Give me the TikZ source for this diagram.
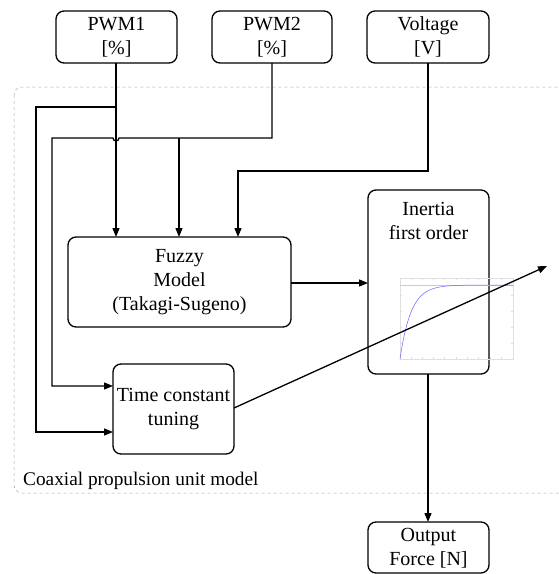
\documentclass[tikz,border=0pt]{standalone}
\usepackage{fontspec}
\setmainfont{Liberation Serif}
\usetikzlibrary{arrows.meta}
\begin{document}
\begin{tikzpicture}[x=1pt,y=-1pt,
  blk/.style={draw,line width=1.3pt,rounded corners=8pt,inner sep=0pt},
  lbl/.style={font=\fontsize{20}{24}\selectfont,align=center,inner sep=0pt},
  wire/.style={line width=1.3pt},
  arr/.style={wire,-{Triangle[length=9pt,width=7pt]}}]
\useasboundingbox (0,0) rectangle (558,574);
% container
\draw[gray!70,dashed,line width=0.5pt,rounded corners=8pt] (14,87) rectangle (600,493);
\node[anchor=base west,font=\fontsize{19.3}{23}\selectfont,inner sep=0pt] (cap) at (23,485) {Coaxial propulsion unit model};
% boxes
\draw[blk] (56,11) rectangle (177,63);
\node[lbl] (pwm1) at (116.5,37) {PWM1\\{}[\%]};
\draw[blk] (212,11) rectangle (332,63);
\node[lbl] (pwm2) at (272,37) {PWM2\\{}[\%]};
\draw[blk] (367,11) rectangle (489,63);
\node[lbl] (volt) at (428,37) {Voltage\\{}[V]};
\draw[blk] (68,237) rectangle (291,327);
\node[lbl] (fuzzy) at (179.5,282) {Fuzzy\\Model\\(Takagi-Sugeno)};
\draw[blk] (368,190) rectangle (489,374);
\node[lbl,anchor=north] (inert) at (428.5,202) {Inertia\\first order};
\draw[blk] (113,364) rectangle (234,454);
\node[lbl] (tct) at (173.5,409) {Time constant\\tuning};
\draw[blk] (368,522) rectangle (489,573);
\node[lbl] (out) at (428.5,548) {Output\\Force [N]};
% named points
\coordinate (p1t) at (116,63);
\coordinate (p2t) at (272,63);
\coordinate (vt) at (428,63);
\coordinate (fz1) at (116,237);
\coordinate (fz2) at (179,237);
\coordinate (fz3) at (238,237);
\coordinate (tc1) at (113,386);
\coordinate (tc2) at (113,432);
\coordinate (fzr) at (291,283);
\coordinate (inl) at (368,283);
\coordinate (inb) at (428,374);
\coordinate (outt) at (428,522);
\coordinate (tcr) at (234,408);
\coordinate (free) at (547,266);
% graph inside inertia block
\begin{scope}
\draw[gray!25,line width=0.4pt] (400,278) rectangle (513,359);
\foreach \x in {411,422,433,444,456,467,478,490,501} \draw[gray!25,line width=0.3pt] (\x,278) -- (\x,280) (\x,357) -- (\x,359);
\foreach \y in {295,311,327,343} \draw[gray!25,line width=0.3pt] (400,\y) -- (402,\y) (511,\y) -- (513,\y);
\draw[gray!40,line width=0.4pt] (400,285) -- (513,285);
\draw[blue!60,line width=0.5pt,domain=0:113,samples=80,smooth] plot ({400+\x},{359-74*(1-exp(-\x/11))});
\end{scope}
% connectors
\draw[arr] (p1t) -- (fz1);
\draw[arr] (p1t) |- (116,107) -- (36,107) |- (tc2);
\draw[arr] (p2t) |- (119,138) arc[start angle=0,end angle=180,radius=3] -- (52,138) |- (tc1);
\draw[arr] (179,138) -- (fz2);
\draw[arr] (vt) |- (238,171) -- (fz3);
\draw[arr] (fzr) -- (inl);
\draw[arr] (inb) -- (outt);
\draw[arr] (tcr) -- (free);
\end{tikzpicture}
\end{document}
